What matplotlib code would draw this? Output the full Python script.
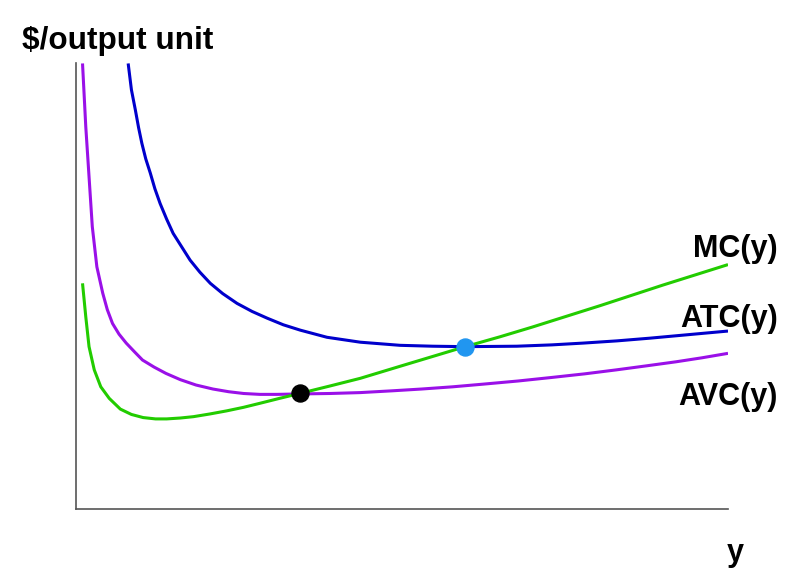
import matplotlib.pyplot as plt

# quantity y on 0..10, cost per unit on 0..10
mc_q = [0.10, 0.15, 0.20, 0.28, 0.38, 0.51, 0.68, 0.85, 1.03, 1.22, 1.39, 1.60,
        1.80, 2.05, 2.31, 2.57, 2.82, 3.12, 3.43, 3.90, 4.36, 4.97, 5.47, 5.97,
        6.50, 7.00, 7.52, 8.04, 8.52, 9.00, 9.50, 10.0]
mc_c = [5.06, 4.31, 3.64, 3.12, 2.74, 2.48, 2.24, 2.12, 2.05, 2.02, 2.02, 2.04,
        2.07, 2.13, 2.20, 2.28, 2.37, 2.48, 2.59, 2.76, 2.93, 3.20, 3.42, 3.64,
        3.86, 4.08, 4.32, 4.56, 4.79, 5.02, 5.25, 5.48]

avc_q = [0.10, 0.15, 0.20, 0.25, 0.32, 0.41, 0.48, 0.56, 0.66, 0.77, 0.90, 1.02,
         1.20, 1.38, 1.60, 1.84, 2.10, 2.34, 2.57, 2.82, 3.08, 3.43, 3.90, 4.36,
         4.85, 5.30, 5.78, 6.25, 6.78, 7.30, 7.80, 8.29, 8.75, 9.20, 9.60, 10.0]
avc_c = [9.99, 8.57, 7.45, 6.33, 5.43, 4.84, 4.47, 4.16, 3.92, 3.72, 3.52, 3.34,
         3.18, 3.04, 2.90, 2.78, 2.69, 2.63, 2.59, 2.57, 2.57, 2.58, 2.59, 2.61,
         2.65, 2.69, 2.74, 2.80, 2.87, 2.95, 3.03, 3.12, 3.21, 3.30, 3.39, 3.49]

atc_q = [0.80, 0.85, 0.91, 0.96, 1.01, 1.07, 1.14, 1.21, 1.29, 1.39, 1.49, 1.62,
         1.75, 1.90, 2.06, 2.25, 2.47, 2.70, 2.93, 3.18, 3.44, 3.85, 4.36, 4.97,
         5.47, 5.97, 6.76, 7.30, 7.78, 8.30, 8.80, 9.40, 10.0]
atc_c = [9.99, 9.40, 8.95, 8.55, 8.20, 7.85, 7.53, 7.18, 6.85, 6.50, 6.18, 5.88,
         5.58, 5.31, 5.06, 4.83, 4.61, 4.43, 4.28, 4.13, 4.01, 3.85, 3.74, 3.67,
         3.65, 3.64, 3.65, 3.68, 3.72, 3.77, 3.83, 3.91, 3.99]

shutdown = (3.43, 2.59)   # min of AVC
breakeven = (5.97, 3.64)  # min of ATC

fig = plt.figure(figsize=(7.86, 5.84), dpi=100, facecolor="white")
ax = fig.add_axes([76/786, 1 - 509/584, 652/786, 446/584])
ax.set_xlim(0, 10)
ax.set_ylim(0, 10)
for side in ("top", "right"):
    ax.spines[side].set_visible(False)
for side in ("left", "bottom"):
    ax.spines[side].set_color("#555555")
    ax.spines[side].set_linewidth(1.2)
ax.set_xticks([])
ax.set_yticks([])

line_kw = dict(lw=2.2, solid_capstyle="butt", solid_joinstyle="round")
ax.plot(atc_q, atc_c, color="#0000cc", **line_kw)
ax.plot(avc_q, avc_c, color="#9a10e8", **line_kw)
ax.plot(mc_q, mc_c, color="#22cc00", **line_kw)

ax.scatter([shutdown[0]], [shutdown[1]], s=150, color="black", zorder=5)
ax.scatter([breakeven[0]], [breakeven[1]], s=150, color="#2196f0", zorder=5)

font = dict(family="Liberation Sans", weight="bold")
fig.text(22/786, 1 - 49/584, r"\$/output unit", va="baseline", ha="left",
         fontsize=22.7, **font)
fig.text(778/786, 1 - 257/584, "MC(y)", va="baseline", ha="right", fontsize=22, **font)
fig.text(778/786, 1 - 327/584, "ATC(y)", va="baseline", ha="right", fontsize=22, **font)
fig.text(778/786, 1 - 405/584, "AVC(y)", va="baseline", ha="right", fontsize=22, **font)
fig.text(727/786, 1 - 561/584, "y", va="baseline", ha="left", fontsize=22, **font)

fig.savefig("out.png", dpi=100, facecolor="white")
